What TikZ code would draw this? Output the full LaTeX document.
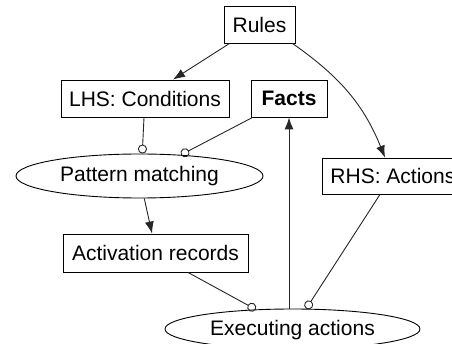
\documentclass[tikz,border=0pt]{standalone}
\usepackage{fontspec}
\setmainfont{Liberation Sans}
\usetikzlibrary{arrows.meta,calc,shapes.geometric}

\tikzset{
  box/.style={draw, rectangle, line width=0.9pt, inner sep=0pt, minimum height=37pt},
  oval/.style={draw, ellipse, line width=0.9pt, inner sep=0pt},
  link/.style={line width=0.9pt, draw=black!85},
  arrowto/.style={link, -{Latex[length=12pt,width=9pt]}},
  plugto/.style={link, -{Circle[open,length=9pt,width=9pt,line width=0.9pt]}},
}

\begin{document}
\begin{tikzpicture}[x=1pt, y=-1pt, font=\fontsize{21}{25}\selectfont]
  \clip (0,0) rectangle (452,344);

  % boxes and ovals
  \node[box, minimum width=71pt]  (rules) at (259.5,24.5) {Rules};
  \node[box, minimum width=168pt] (lhs)   at (145,98.5)   {LHS: Conditions};
  \node[box, minimum width=76pt]  (facts) at (289,98.5)   {\textbf{Facts}};
  \node[box, anchor=west, inner xsep=8pt, minimum height=36pt] (rhs) at (322,176) {RHS: Actions};
  \node[oval, minimum width=247pt, minimum height=44pt] (pm) at (139.5,176) {Pattern matching};
  \node[box, minimum width=185pt, minimum height=38pt] (act) at (155.5,253) {Activation records};
  \node[oval, minimum width=255pt, minimum height=40pt] (exec) at (292.5,329) {};
  \node (execlabel) at (292.5,330) {Executing actions};

  % rule parts
  \draw[arrowto] ($(rules.south west)+(6,0)$) -- ($(lhs.north)+(28,0)$);
  \draw[arrowto] ($(rules.south east)+(-3,0)$) to[out=-35, in=112] ($(rhs.north west)+(63,0)$);

  % matching
  \draw[plugto] ($(lhs.south)+(-1,0)$) -- (pm.83.5);
  \draw[plugto] ($(facts.south west)+(2,0)$) -- (pm.27.5);
  \draw[arrowto] (pm.-78.4) -- ($(act.north)+(-3.5,0)$);

  % execution
  \draw[plugto] ($(act.south)+(32.5,0)$) -- (exec.152.7);
  \draw[plugto] ($(rhs.south west)+(58,0)$) -- (exec.56.2);
  \draw[arrowto] (exec.north -| facts) -- (facts.south);
\end{tikzpicture}
\end{document}
